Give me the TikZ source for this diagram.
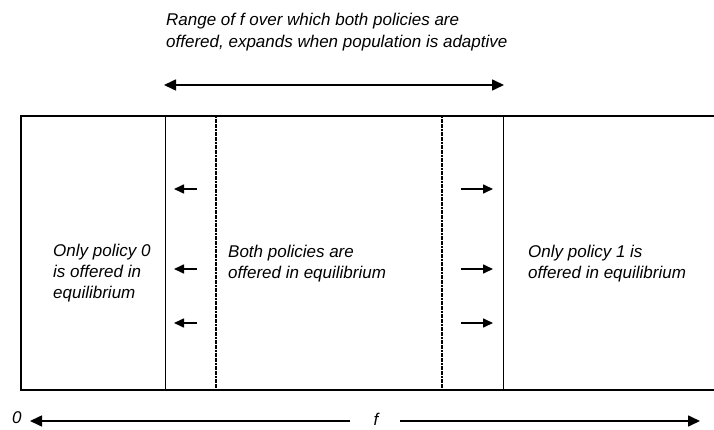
\documentclass[tikz,border=0pt]{standalone}
\usepackage{fontspec}
\setmainfont{Liberation Sans}
\usetikzlibrary{arrows.meta}
\begin{document}
\begin{tikzpicture}[x=1pt,y=-1pt,
  lbl/.style={font=\fontsize{17}{21}\selectfont\itshape, align=left, anchor=north west, inner sep=0pt},
  toplbl/.style={lbl, font=\fontsize{17}{22}\selectfont\itshape},
  bigarrow/.style={line width=1.6pt, {Triangle[length=12pt,width=11pt]}-{Triangle[length=12pt,width=11pt]}},
  onearrow/.style={line width=1.6pt, -{Triangle[length=12pt,width=11pt]}},
  smallarrow/.style={line width=1.6pt, -{Triangle[length=10pt,width=9pt]}},
  frame/.style={line width=1.6pt},
  solidsep/.style={line width=1pt},
  dotsep/.style={line width=1.4pt, dash pattern=on 2pt off 0.6pt}]
\useasboundingbox (0,0) rectangle (714,430);
\clip (0,0) rectangle (714,430);
% frame
\coordinate (tl) at (21,116);
\coordinate (bl) at (21,390);
\coordinate (tr) at (720,116);
\coordinate (br) at (720,390);
\draw[frame] (tr) -- (tl) -- (bl) -- (br);
% separators
\coordinate (s1t) at (165,116); \coordinate (s1b) at (165,390);
\coordinate (s2t) at (216,116); \coordinate (s2b) at (216,390);
\coordinate (s3t) at (442,116); \coordinate (s3b) at (442,390);
\coordinate (s4t) at (503,116); \coordinate (s4b) at (503,390);
\draw[solidsep] (s1t) -- (s1b);
\draw[dotsep] (s2t) -- (s2b);
\draw[dotsep] (s3t) -- (s3b);
\draw[solidsep] (s4t) -- (s4b);
% top label and arrow
\node[toplbl] (toptext) at (166,12.5) {Range of f over which both policies are\\offered, expands when population is adaptive};
\coordinate (ta) at (164,85);
\coordinate (tb) at (504,85);
\draw[bigarrow] (ta) -- (tb);
% small arrows
\foreach \yy/\n in {189/a,269/b,323/c}{
  \coordinate (l\n s) at (197,\yy); \coordinate (l\n e) at (174,\yy);
  \draw[smallarrow] (l\n s) -- (l\n e);
  \coordinate (r\n s) at (461,\yy); \coordinate (r\n e) at (493,\yy);
  \draw[smallarrow] (r\n s) -- (r\n e);
}
% region labels
\node[lbl] (left) at (53,243.5) {Only policy 0\\is offered in\\equilibrium};
\node[lbl] (mid) at (228,245) {Both policies are\\offered in equilibrium};
\node[lbl] (right) at (528,245) {Only policy 1 is\\offered in equilibrium};
% bottom axis
\node[lbl, anchor=base west] (zero) at (12,423) {0};
\node[lbl, anchor=base] (f) at (376,425) {f};
\coordinate (bla) at (350,421);
\coordinate (blb) at (30,421);
\coordinate (bra) at (400,421);
\coordinate (brb) at (700,421);
\draw[onearrow] (bla) -- (blb);
\draw[onearrow] (bra) -- (brb);
\end{tikzpicture}
\end{document}
